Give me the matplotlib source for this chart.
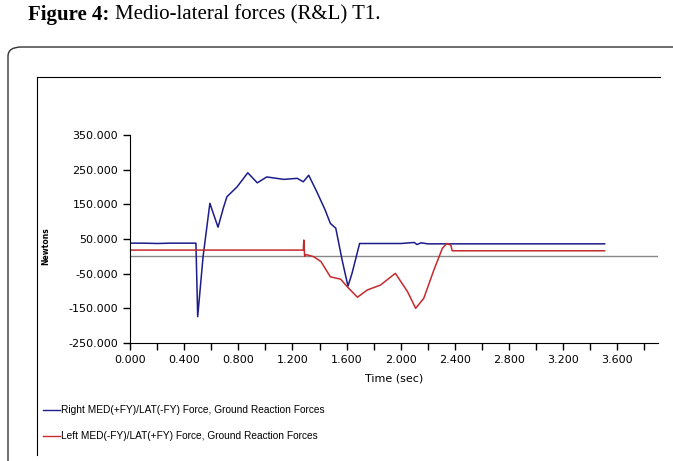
import matplotlib.pyplot as plt
from matplotlib.patches import FancyBboxPatch
from matplotlib.lines import Line2D
from matplotlib.ticker import MultipleLocator, FuncFormatter

# Right MED(+FY)/LAT(-FY) force
right_t = [0.00, 0.10, 0.20, 0.30, 0.40, 0.487, 0.50, 0.54, 0.59, 0.65, 0.69, 0.716, 0.79, 0.87,
           0.94, 1.01, 1.136, 1.235, 1.28, 1.32, 1.38, 1.44, 1.48, 1.52, 1.567, 1.61, 1.64, 1.696,
           1.80, 2.00, 2.10, 2.12, 2.15, 2.20, 2.40, 2.80, 3.20, 3.506]
right_f = [38, 38, 37, 38, 38, 38, -174, 0, 153, 84, 140, 172, 200, 241,
           212, 229, 222, 225, 215, 234, 186, 135, 95, 81, -11, -86, -49, 37,
           37, 37, 40, 34, 39, 36, 36, 36, 36, 36]

# Left MED(-FY)/LAT(+FY) force
left_t = [0.00, 0.20, 0.40, 0.60, 0.80, 1.00, 1.20, 1.28, 1.284, 1.29, 1.30, 1.357, 1.41,
          1.48, 1.556, 1.605, 1.68, 1.753, 1.85, 1.96, 2.05, 2.11, 2.17, 2.245, 2.307,
          2.34, 2.37, 2.38, 2.60, 3.00, 3.506]
left_f = [18, 18, 18, 18, 18, 18, 18, 18, 47, 0, 5, -1, -15,
          -59, -66, -88, -118, -97, -83, -49, -102, -150, -121, -39, 23,
          37, 32, 16, 16, 16, 16]

fig = plt.figure(figsize=(6.73, 4.61), dpi=100)

# caption
fig.text(28 / 673, 1 - 15 / 461, "Figure 4:", fontfamily="Liberation Serif",
         fontweight="bold", fontsize=15, va="center")
fig.text(115 / 673, 1 - 15 / 461, "Medio-lateral forces (R&L) T1.",
         fontfamily="Liberation Serif", fontsize=15, va="center")

# outer rounded frame and chart-area border
frame = FancyBboxPatch((8 / 673, -0.1), 1.2, 1 - 47 / 461 + 0.1,
                       boxstyle="round,pad=0,rounding_size=0.02",
                       transform=fig.transFigure, fill=False, edgecolor="#333333", lw=1.0)
fig.patches.append(frame)
fig.lines.append(Line2D([37 / 673, 660 / 673], [1 - 77 / 461, 1 - 77 / 461],
                        transform=fig.transFigure, color="black", lw=0.8))
fig.lines.append(Line2D([37 / 673, 37 / 673], [1 - 77 / 461, 1 - 455 / 461],
                        transform=fig.transFigure, color="black", lw=0.8))

ax = fig.add_axes([130 / 673, 1 - 343 / 461, (658 - 130) / 673, (343 - 135) / 461])
ax.axhline(0, color="#888888", lw=1.0)
ax.plot(right_t, right_f, color="#1c1c8a", lw=1.1)
ax.plot(left_t, left_f, color="#c42a2e", lw=1.1)

ax.set_xlim(0, 3.9)
ax.set_ylim(-250, 350)
ax.set_yticks([-250, -150, -50, 50, 150, 250, 350])
ax.yaxis.set_major_formatter(FuncFormatter(lambda v, p: f"{v:.3f}"))
ax.xaxis.set_major_locator(MultipleLocator(0.4))
ax.xaxis.set_minor_locator(MultipleLocator(0.2))
ax.xaxis.set_major_formatter(FuncFormatter(lambda v, p: f"{v:.3f}"))
for s in ["top", "right"]:
    ax.spines[s].set_visible(False)
ax.tick_params(axis="both", which="both", direction="out", length=5, width=1,
               labelsize=8)
ax.set_xlabel("Time (sec)", fontsize=8, labelpad=6)
fig.text(46 / 673, 1 - 246 / 461, "Newtons", rotation=90, fontsize=5.5,
         fontweight="bold", va="center", ha="center")

# legend below the chart
for y, col, txt in [(410, "#1c1c8a", "Right MED(+FY)/LAT(-FY) Force, Ground Reaction Forces"),
                    (436, "#c42a2e", "Left MED(-FY)/LAT(+FY) Force, Ground Reaction Forces")]:
    fig.lines.append(Line2D([43 / 673, 60 / 673], [1 - y / 461, 1 - y / 461],
                            transform=fig.transFigure, color=col, lw=1.0))
    fig.text(61 / 673, 1 - y / 461, txt, fontsize=7.3, fontfamily="Liberation Sans",
             va="center")

fig.savefig("out.png", dpi=100)
